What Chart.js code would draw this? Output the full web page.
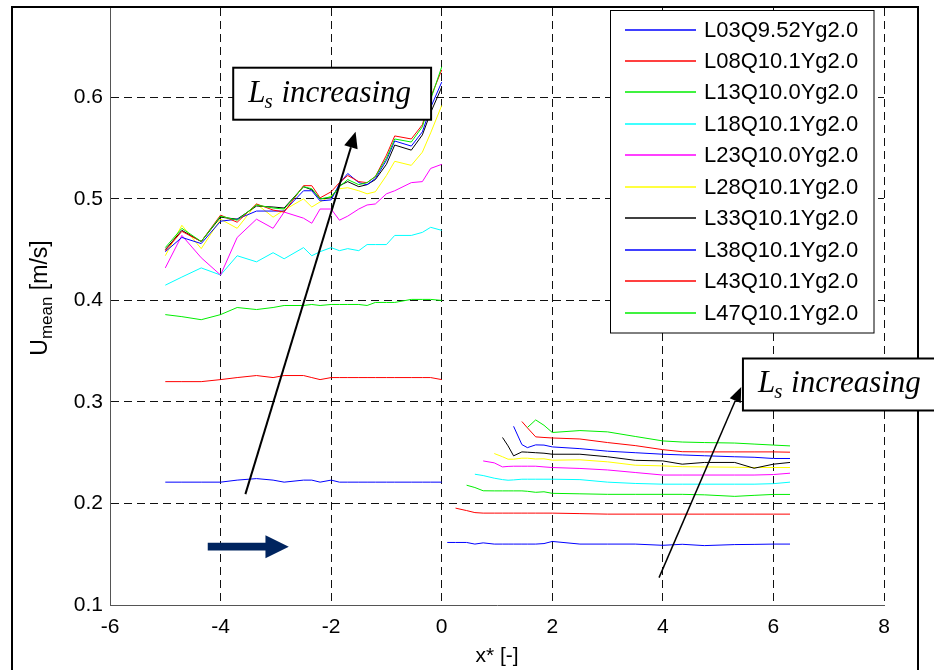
<!DOCTYPE html>
<html>
<head>
<meta charset="utf-8">
<script src="https://cdn.jsdelivr.net/npm/chart.js@4.4.0/dist/chart.umd.js"></script>
<style>
  html, body { margin: 0; padding: 0; background: #fff; overflow: hidden; }
  canvas { display: block; }
</style>
</head>
<body>
<canvas id="umean" width="934" height="670"></canvas>
<script>
// measurement stations, upstream (x* < 0) and downstream (x* > 0)
const xUp = [-5.0, -4.7, -4.35, -4.0, -3.7, -3.35, -3.05, -2.85, -2.5, -2.35, -2.2, -2.0,
             -1.85, -1.7, -1.5, -1.35, -1.2, -1.0, -0.85, -0.55, -0.35, -0.2, 0.0];
const xDown = [0.1, 0.25, 0.45, 0.6, 0.75, 0.95, 1.1, 1.2, 1.3, 1.45, 1.55, 1.7, 1.85, 2.0,
               2.5, 3.0, 3.5, 4.0, 4.35, 4.75, 5.3, 5.65, 6.0, 6.3];

const xTicks = [-6, -4, -2, 0, 2, 4, 6, 8];
const yTicks = [0.1, 0.2, 0.3, 0.4, 0.5, 0.6];

const runs = ['L03Q9.52Yg2.0', 'L08Q10.1Yg2.0', 'L13Q10.0Yg2.0', 'L18Q10.1Yg2.0', 'L23Q10.0Yg2.0',
              'L28Q10.1Yg2.0', 'L33Q10.1Yg2.0', 'L38Q10.1Yg2.0', 'L43Q10.1Yg2.0', 'L47Q10.1Yg2.0'];
const colors = ['#0000ff', '#ff0000', '#00ee00', '#00ffff', '#ff00ff',
                '#ffff00', '#000000', '#0000ff', '#ff0000', '#00ee00'];

// U_mean [m/s] upstream of the step
const upL03 = [0.221, 0.221, 0.221, 0.221, 0.223, 0.2245, 0.223, 0.221, 0.223, 0.223, 0.221, 0.223,
               0.221, 0.221, 0.221, 0.221, 0.221, 0.221, 0.221, 0.221, 0.221, 0.221, 0.221];
const upL08 = [0.320, 0.320, 0.320, 0.322, 0.324, 0.326, 0.324, 0.326, 0.326, 0.324, 0.322, 0.324,
               0.324, 0.324, 0.324, 0.324, 0.324, 0.324, 0.324, 0.324, 0.324, 0.324, 0.322];
const upL13 = [0.386, 0.384, 0.381, 0.386, 0.393, 0.391, 0.393, 0.395, 0.395, 0.396, 0.395, 0.396,
               0.396, 0.396, 0.396, 0.395, 0.398, 0.398, 0.398, 0.401, 0.401, 0.401, 0.400];
const upL18 = [0.415, 0.423, 0.432, 0.425, 0.444, 0.438, 0.447, 0.441, 0.452, 0.444, 0.448, 0.452,
               0.449, 0.451, 0.449, 0.455, 0.455, 0.455, 0.464, 0.464, 0.467, 0.472, 0.469];
const upL23 = [0.432, 0.464, 0.442, 0.425, 0.462, 0.480, 0.471, 0.487, 0.481, 0.476, 0.490, 0.490,
               0.479, 0.483, 0.490, 0.494, 0.495, 0.505, 0.508, 0.516, 0.517, 0.530, 0.534];
const upL28 = [0.444, 0.474, 0.451, 0.480, 0.471, 0.495, 0.482, 0.489, 0.500, 0.492, 0.497, 0.503,
               0.510, 0.511, 0.508, 0.505, 0.507, 0.523, 0.537, 0.533, 0.546, 0.565, 0.592];
const upL33 = [0.450, 0.469, 0.458, 0.482, 0.480, 0.493, 0.492, 0.491, 0.512, 0.509, 0.500, 0.501,
               0.513, 0.517, 0.512, 0.514, 0.519, 0.534, 0.553, 0.548, 0.563, 0.585, 0.610];
const upL38 = [0.448, 0.462, 0.456, 0.478, 0.480, 0.488, 0.488, 0.488, 0.508, 0.508, 0.498, 0.499,
               0.515, 0.525, 0.516, 0.514, 0.520, 0.538, 0.557, 0.552, 0.566, 0.590, 0.615];
const upL43 = [0.449, 0.468, 0.458, 0.484, 0.477, 0.495, 0.489, 0.487, 0.513, 0.513, 0.501, 0.507,
               0.516, 0.523, 0.517, 0.516, 0.522, 0.543, 0.562, 0.559, 0.573, 0.600, 0.627];
const upL47 = [0.452, 0.471, 0.458, 0.483, 0.479, 0.494, 0.491, 0.490, 0.512, 0.510, 0.500, 0.502,
               0.512, 0.519, 0.514, 0.516, 0.522, 0.540, 0.559, 0.556, 0.571, 0.598, 0.630];

// U_mean [m/s] downstream, null before a run's first station
const dnL03 = [0.1616, 0.1616, 0.1616, 0.1600, 0.1612, 0.1600, 0.1600, 0.1600, 0.1600, 0.1600, 0.1600, 0.1600,
               0.1605, 0.1626, 0.1600, 0.1600, 0.1600, 0.1588, 0.1598, 0.1585, 0.1595, 0.1597, 0.1600, 0.1600];
const dnL08 = [null, 0.1954, 0.1930, 0.1910, 0.1905, 0.1905, 0.1905, 0.1905, 0.1905, 0.1905, 0.1905, 0.1905,
               0.1905, 0.1905, 0.1900, 0.1895, 0.1895, 0.1895, 0.1895, 0.1895, 0.1895, 0.1895, 0.1895, 0.1895];
const dnL13 = [null, null, 0.2180, 0.2157, 0.2125, 0.2124, 0.2124, 0.2124, 0.2124, 0.2124, 0.2120, 0.2110,
               0.2115, 0.2100, 0.2095, 0.2090, 0.2090, 0.2090, 0.2090, 0.2085, 0.2070, 0.2080, 0.2089, 0.2089];
const dnL18 = [null, null, null, 0.2288, 0.2275, 0.2249, 0.2235, 0.2229, 0.2232, 0.2239, 0.2239, 0.2239,
               0.2239, 0.2239, 0.2235, 0.2210, 0.2197, 0.2190, 0.2190, 0.2190, 0.2190, 0.2190, 0.2195, 0.2210];
const dnL23 = [null, null, null, null, 0.2419, 0.2400, 0.2360, 0.2365, 0.2367, 0.2367, 0.2367, 0.2367,
               0.2360, 0.2354, 0.2345, 0.2330, 0.2305, 0.2280, 0.2280, 0.2280, 0.2280, 0.2280, 0.2285, 0.2298];
const dnL28 = [null, null, null, null, null, 0.2492, 0.2460, 0.2436, 0.2436, 0.2446, 0.2446, 0.2438,
               0.2440, 0.2426, 0.2430, 0.2410, 0.2377, 0.2370, 0.2362, 0.2360, 0.2357, 0.2354, 0.2354, 0.2354];
const dnL33 = [null, null, null, null, null, null, 0.2650, 0.2567, 0.2469, 0.2508, 0.2505, 0.2500,
               0.2495, 0.2485, 0.2485, 0.2460, 0.2425, 0.2419, 0.2387, 0.2404, 0.2404, 0.2347, 0.2387, 0.2404];
const dnL38 = [null, null, null, null, null, null, null, null, 0.2760, 0.2580, 0.2550, 0.2577,
               0.2575, 0.2557, 0.2540, 0.2515, 0.2500, 0.2485, 0.2478, 0.2470, 0.2460, 0.2455, 0.2443, 0.2443];
const dnL43 = [null, null, null, null, null, null, null, null, null, 0.2807, 0.2745, 0.2656,
               0.2650, 0.2645, 0.2635, 0.2600, 0.2570, 0.2530, 0.2510, 0.2508, 0.2508, 0.2508, 0.2508, 0.2505];
const dnL47 = [null, null, null, null, null, null, null, null, null, null, 0.2748, 0.2823,
               0.2770, 0.2699, 0.2718, 0.2705, 0.2660, 0.2616, 0.2605, 0.2600, 0.2595, 0.2585, 0.2575, 0.2567];

const upstream = [upL03, upL08, upL13, upL18, upL23, upL28, upL33, upL38, upL43, upL47];
const downstream = [dnL03, dnL08, dnL13, dnL18, dnL23, dnL28, dnL33, dnL38, dnL43, dnL47];

const SANS = '"Liberation Sans", Arial, Helvetica, sans-serif';
const SERIF = '"Liberation Serif", "Times New Roman", serif';

// one line per run; a null point at the step splits the two reaches
const datasets = runs.map((label, i) => ({
    label,
    data: xUp.map((x, k) => ({ x, y: upstream[i][k] }))
        .concat([{ x: 0.05, y: null }])
        .concat(xDown.map((x, k) => ({ x, y: downstream[i][k] }))),
    borderColor: colors[i],
    borderWidth: 1,
    pointRadius: 0,
    tension: 0,
    spanGaps: false,
    order: runs.length - i,
}));

function arrowLine(ctx, x0, y0, x1, y1, width, len, half) {
    const a = Math.atan2(y1 - y0, x1 - x0);
    const bx = x1 - len * Math.cos(a), by = y1 - len * Math.sin(a);
    ctx.lineWidth = width;
    ctx.beginPath(); ctx.moveTo(x0, y0); ctx.lineTo(bx, by); ctx.stroke();
    ctx.beginPath();
    ctx.moveTo(x1, y1);
    ctx.lineTo(bx + half * Math.sin(a), by - half * Math.cos(a));
    ctx.lineTo(bx - half * Math.sin(a), by + half * Math.cos(a));
    ctx.closePath(); ctx.fill();
}

function noteBox(ctx, x, y) {
    ctx.font = 'italic 31px ' + SERIF;
    const wL = ctx.measureText('L').width;
    const rest = ' increasing';
    const wR = ctx.measureText(rest).width;
    ctx.font = 'italic 21px ' + SERIF;
    const wS = ctx.measureText('s').width;
    const w = wL + wS + wR;
    ctx.fillStyle = '#fff';
    ctx.fillRect(x - 15, y - 34, w + 35, 52);
    ctx.strokeStyle = '#000'; ctx.lineWidth = 2;
    ctx.strokeRect(x - 15, y - 34, w + 35, 52);
    ctx.fillStyle = '#000';
    ctx.textAlign = 'left'; ctx.textBaseline = 'alphabetic';
    ctx.font = 'italic 31px ' + SERIF;
    ctx.fillText('L', x, y);
    ctx.fillText(rest, x + wL + wS, y);
    ctx.font = 'italic 21px ' + SERIF;
    ctx.fillText('s', x + wL - 1, y + 6);
}

const decor = {
    id: 'decor',
    afterDraw(chart) {
        const { ctx, scales } = chart;
        const px = (v) => scales.x.getPixelForValue(v);
        const py = (v) => scales.y.getPixelForValue(v);
        ctx.save();

        // figure frame
        ctx.strokeStyle = '#000'; ctx.lineWidth = 2;
        ctx.strokeRect(12, 7, 906, 700);

        // legend
        ctx.fillStyle = '#fff';
        ctx.fillRect(610.5, 10.5, 263.5, 322.5);
        ctx.strokeStyle = '#000'; ctx.lineWidth = 1;
        ctx.strokeRect(610.5, 10.5, 263.5, 322.5);
        ctx.font = '22px ' + SANS;
        ctx.textAlign = 'left'; ctx.textBaseline = 'middle';
        chart.data.datasets.forEach((ds, i) => {
            const yy = Math.round(29.5 + i * 31.45);
            ctx.strokeStyle = ds.borderColor; ctx.lineWidth = 1.5;
            ctx.beginPath(); ctx.moveTo(625, yy); ctx.lineTo(696, yy); ctx.stroke();
            ctx.fillStyle = '#000';
            ctx.fillText(ds.label, 704, yy + 1);
        });

        // axis titles
        ctx.fillStyle = '#000';
        ctx.font = '21px ' + SANS;
        ctx.textAlign = 'center'; ctx.textBaseline = 'middle';
        ctx.fillText('x* [-]', (chart.chartArea.left + chart.chartArea.right) / 2, 656);

        ctx.save();
        ctx.translate(47, 298);
        ctx.rotate(-Math.PI / 2);
        ctx.textAlign = 'left'; ctx.textBaseline = 'alphabetic';
        ctx.font = '23px ' + SANS;
        const wU = ctx.measureText('U').width, wT = ctx.measureText(' [m/s]').width;
        ctx.font = '17px ' + SANS;
        const wM = ctx.measureText('mean').width;
        let tx = -(wU + wM + wT) / 2;
        ctx.font = '23px ' + SANS;
        ctx.fillText('U', tx, 0); tx += wU;
        ctx.font = '17px ' + SANS;
        ctx.fillText('mean', tx, 5); tx += wM;
        ctx.font = '23px ' + SANS;
        ctx.fillText(' [m/s]', tx, 0);
        ctx.restore();

        // flow direction
        const fy = py(0.1574), fx0 = px(-4.232), fxn = px(-3.188), fxt = px(-2.766);
        ctx.fillStyle = '#00245f';
        ctx.beginPath();
        ctx.moveTo(fx0, fy - 3.9); ctx.lineTo(fxn, fy - 3.9); ctx.lineTo(fxn, fy - 11.5);
        ctx.lineTo(fxt, fy); ctx.lineTo(fxn, fy + 11.5); ctx.lineTo(fxn, fy + 3.9);
        ctx.lineTo(fx0, fy + 3.9); ctx.closePath(); ctx.fill();

        // trend arrows and their labels
        ctx.strokeStyle = '#000'; ctx.fillStyle = '#000';
        arrowLine(ctx, px(-3.551), py(0.2092), px(-1.558), py(0.566), 2, 16, 7);
        arrowLine(ctx, px(3.931), py(0.127), px(5.417), py(0.3148), 1.5, 15, 6);
        noteBox(ctx, px(-3.50), py(0.5957));
        noteBox(ctx, px(5.72), py(0.3093));

        ctx.restore();
    },
};

new Chart(document.getElementById('umean'), {
    type: 'line',
    data: { datasets },
    options: {
        responsive: false,
        animation: false,
        devicePixelRatio: 1,
        layout: { padding: { left: 0, top: 8, right: 50, bottom: 0 } },
        plugins: { legend: { display: false }, tooltip: { enabled: false } },
        scales: {
            x: {
                type: 'linear', min: -6, max: 8,
                afterBuildTicks: (s) => { s.ticks = xTicks.map((v) => ({ value: v })); },
                afterFit: (s) => { s.height = 65; s.paddingLeft = 0; s.paddingRight = 0; },
                grid: { color: '#111', lineWidth: 1, drawTicks: false },
                border: { display: true, color: '#555', width: 1, dash: [8, 5] },
                ticks: { color: '#000', padding: 10, font: { family: SANS, size: 21 }, callback: (v) => String(v) },
            },
            y: {
                type: 'linear', min: 0.1, max: 0.688,
                afterBuildTicks: (s) => { s.ticks = yTicks.map((v) => ({ value: v })); },
                afterFit: (s) => { s.width = 110; s.paddingTop = 0; s.paddingBottom = 0; },
                grid: { color: '#111', lineWidth: 1, drawTicks: false },
                border: { display: true, color: '#555', width: 1, dash: [8, 5] },
                ticks: { color: '#000', padding: 7, font: { family: SANS, size: 21 }, callback: (v) => v.toFixed(1) },
            },
        },
    },
    plugins: [decor],
});
</script>
</body>
</html>
